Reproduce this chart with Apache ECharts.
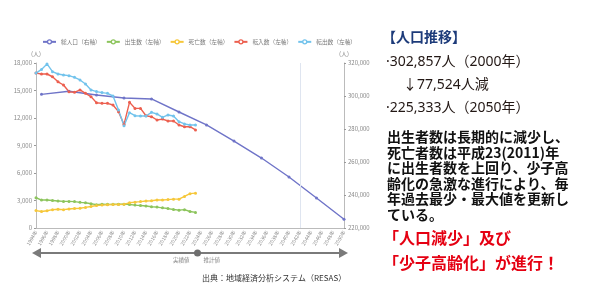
<!DOCTYPE html>
<html>
<head>
<meta charset="utf-8">
<script src="https://cdn.jsdelivr.net/npm/echarts@6/dist/echarts.min.js"></script>
<style>
  html, body { margin: 0; padding: 0; background: #fff; }
  #main { width: 595px; height: 286px; }
</style>
</head>
<body>
<div id="main"></div>
<script>
"use strict";

const FONT = '"Noto Sans CJK JP", "Noto Sans", sans-serif';
const FONT_LATIN = '"Noto Sans", "Noto Sans CJK JP", sans-serif';

// 系列の色
const colors = {
  pop: "#6f74c8",
  births: "#8cc45c",
  deaths: "#f6c73a",
  movesIn: "#ec5f4f",
  movesOut: "#72c3ec",
};

// 年（カテゴリ）
const years = [
  "1994", "1995", "1996", "1997", "1998", "1999", "2000", "2001", "2002", "2003",
  "2004", "2005", "2006", "2007", "2008", "2009", "2010", "2011", "2012", "2013",
  "2014", "2015", "2016", "2017", "2018", "2019", "2020", "2021", "2022", "2023",
  "2024", "2025", "2026", "2027", "2028", "2029", "2030", "2031", "2032", "2033",
  "2034", "2035", "2036", "2037", "2038", "2039", "2040", "2041", "2042", "2043",
  "2044", "2045", "2046", "2047", "2048", "2049", "2050",
];
// 実績値の年
const actualYears = [
  "1994", "1995", "1996", "1997", "1998", "1999", "2000", "2001", "2002", "2003",
  "2004", "2005", "2006", "2007", "2008", "2009", "2010", "2011", "2012", "2013",
  "2014", "2015", "2016", "2017", "2018", "2019", "2020", "2021", "2022", "2023",
];
const births = [
  3300, 3050, 3050, 3000, 2950, 2900, 2900, 2880, 2800, 2750,
  2650, 2550, 2600, 2580, 2580, 2600, 2600, 2560, 2500, 2450,
  2400, 2320, 2280, 2200, 2120, 2020, 1950, 2000, 1800, 1700,
];
const deaths = [
  1900, 1800, 1880, 2000, 2050, 2000, 2080, 2120, 2150, 2250,
  2350, 2450, 2500, 2540, 2560, 2560, 2580, 2750, 2820, 2880,
  2950, 2980, 3050, 3050, 3100, 3150, 3150, 3450, 3750, 3800,
];
const movesIn = [
  16900, 16800, 16800, 16500, 15950, 15600, 14870, 14800, 15060, 14690,
  14330, 13670, 13600, 13600, 13420, 12690, 11300, 13710, 13050, 13050,
  12250, 12140, 11780, 11880, 11670, 11670, 11240, 11050, 11050, 10700,
];
const movesOut = [
  16900, 17300, 17900, 17050, 16800, 16690, 16620, 16440, 16150, 15710,
  15060, 14880, 14770, 14690, 14400, 12870, 11160, 12580, 12250, 12220,
  12220, 12620, 12440, 12070, 12330, 12220, 11600, 11350, 11240, 11240,
];
// 総人口（5年ごと）
const popYears = ["1995", "2000", "2005", "2010", "2015", "2020", "2025", "2030", "2035", "2040", "2045", "2050"];
const popValues = [301000, 302857, 300600, 298800, 298200, 290300, 282500, 272700, 262400, 250900, 238200, 225333];

// 軸目盛
const leftTicks = { min: 0, max: 18000, interval: 3000 };
const rightTicks = { min: 220000, max: 320000, interval: 20000 };

const pairs = (xs, ys) => xs.map((x, i) => [x, ys[i]]);

const lineSeries = (name, color, data, yAxisIndex) => ({
  name,
  type: "line",
  yAxisIndex,
  data,
  symbol: "circle",
  symbolSize: 3,
  lineStyle: { color, width: 1.4 },
  itemStyle: { color },
  animation: false,
});

// 凡例（白抜きの丸）
const legendItem = (name, color) => ({
  name,
  itemStyle: { color: "#fff", borderColor: color, borderWidth: 1.3 },
});

const axisText = { color: "#888", fontSize: 6, fontFamily: FONT };

const chart = echarts.init(document.getElementById("main"));

chart.setOption({
  backgroundColor: "#fff",
  textStyle: { fontFamily: FONT },
  legend: {
    top: 34,
    left: 37,
    itemWidth: 13,
    itemHeight: 5,
    itemGap: 5,
    textStyle: { color: "#777", fontSize: 5.7, fontFamily: FONT },
    data: [
      legendItem("総人口（右軸）", colors.pop),
      legendItem("出生数（左軸）", colors.births),
      legendItem("死亡数（左軸）", colors.deaths),
      legendItem("転入数（左軸）", colors.movesIn),
      legendItem("転出数（左軸）", colors.movesOut),
    ],
  },
  grid: { left: 36, right: 251, top: 63, bottom: 58 },
  xAxis: {
    type: "category",
    data: years,
    boundaryGap: false,
    axisLine: { lineStyle: { color: "#bbb" } },
    axisTick: { show: false },
    axisLabel: {
      ...axisText,
      fontSize: 5,
      interval: 1,
      rotate: 60,
      margin: 3,
      formatter: (v) => v + "年",
    },
  },
  yAxis: [
    {
      type: "value",
      ...leftTicks,
      name: "(人)",
      nameGap: 6,
      nameTextStyle: { ...axisText, align: "center" },
      axisLine: { show: true, lineStyle: { color: "#bbb" } },
      axisTick: { show: true, length: 2, lineStyle: { color: "#999" } },
      axisLabel: { ...axisText, margin: 4, formatter: (v) => v.toLocaleString("en-US") },
      splitLine: { show: false },
    },
    {
      type: "value",
      ...rightTicks,
      name: "(人)",
      nameGap: 6,
      nameTextStyle: { ...axisText, align: "center" },
      position: "right",
      axisLine: { show: true, lineStyle: { color: "#bbb" } },
      axisTick: { show: true, length: 2, lineStyle: { color: "#999" } },
      axisLabel: { ...axisText, margin: 4, formatter: (v) => v.toLocaleString("en-US") },
      splitLine: { show: false },
    },
  ],
  series: [
    {
      ...lineSeries("総人口（右軸）", colors.pop, pairs(popYears, popValues), 1),
      markLine: {
        silent: true,
        symbol: "none",
        label: { show: false },
        lineStyle: { color: "#dfe5f0", width: 1, type: "solid" },
        data: [{ xAxis: "2042" }],
      },
    },
    lineSeries("出生数（左軸）", colors.births, pairs(actualYears, births), 0),
    lineSeries("死亡数（左軸）", colors.deaths, pairs(actualYears, deaths), 0),
    lineSeries("転入数（左軸）", colors.movesIn, pairs(actualYears, movesIn), 0),
    lineSeries("転出数（左軸）", colors.movesOut, pairs(actualYears, movesOut), 0),
  ],
});

// 実績値 / 推計値 の境界
const divX = chart.convertToPixel({ xAxisIndex: 0 }, actualYears[actualYears.length - 1]) + 2;
const arrowY = 253;

chart.setOption({
  graphic: [
    // 矢印
    { type: "line", shape: { x1: 38, y1: arrowY, x2: 342, y2: arrowY }, style: { stroke: "#7a7a7a", lineWidth: 2 } },
    { type: "polygon", shape: { points: [[32, arrowY], [41, arrowY - 5], [41, arrowY + 5]] }, style: { fill: "#7a7a7a" } },
    { type: "polygon", shape: { points: [[348, arrowY], [339, arrowY - 5], [339, arrowY + 5]] }, style: { fill: "#7a7a7a" } },
    { type: "circle", shape: { cx: divX, cy: arrowY, r: 3.5 }, style: { fill: "#6e6e6e" } },
    { type: "text", x: divX - 8, y: arrowY + 7, style: { text: "実績値", fill: "#888", font: `5.5px ${FONT}`, textAlign: "right", textVerticalAlign: "middle" } },
    { type: "text", x: divX + 6, y: arrowY + 7, style: { text: "推計値", fill: "#888", font: `5.5px ${FONT}`, textAlign: "left", textVerticalAlign: "middle" } },
    // 出典
    { type: "text", x: 202, y: 278, style: { text: "出典：地域経済分析システム（RESAS）", fill: "#333", font: `8px ${FONT}`, textVerticalAlign: "middle" } },
    // 右側テキスト
    { type: "text", x: 382, y: 37, style: { text: "【人口推移】", fill: "#1d3b7a", font: `bold 14px ${FONT}`, textVerticalAlign: "middle" } },
    { type: "text", x: 386, y: 62, style: { text: "·302,857人（2000年）", fill: "#231815", font: `14px ${FONT_LATIN}`, textVerticalAlign: "middle" } },
    { type: "text", x: 403, y: 85, style: { text: "↓77,524人減", fill: "#231815", font: `14px ${FONT_LATIN}`, textVerticalAlign: "middle" } },
    { type: "text", x: 386, y: 108, style: { text: "·225,333人（2050年）", fill: "#231815", font: `14px ${FONT_LATIN}`, textVerticalAlign: "middle" } },
    {
      type: "text",
      x: 387,
      y: 129,
      style: {
        text: "出生者数は長期的に減少し、\n死亡者数は平成23(2011)年\nに出生者数を上回り、少子高\n齢化の急激な進行により、毎\n年過去最少・最大値を更新し\nている。",
        fill: "#111",
        font: `bold 14px ${FONT}`,
        lineHeight: 15.5,
      },
    },
    { type: "text", x: 383, y: 238, style: { text: "「人口減少」及び", fill: "#e50012", font: `bold 16px ${FONT}`, textVerticalAlign: "middle" } },
    { type: "text", x: 383, y: 263, style: { text: "「少子高齢化」が進行！", fill: "#e50012", font: `bold 16px ${FONT}`, textVerticalAlign: "middle" } },
  ],
});
</script>
</body>
</html>
